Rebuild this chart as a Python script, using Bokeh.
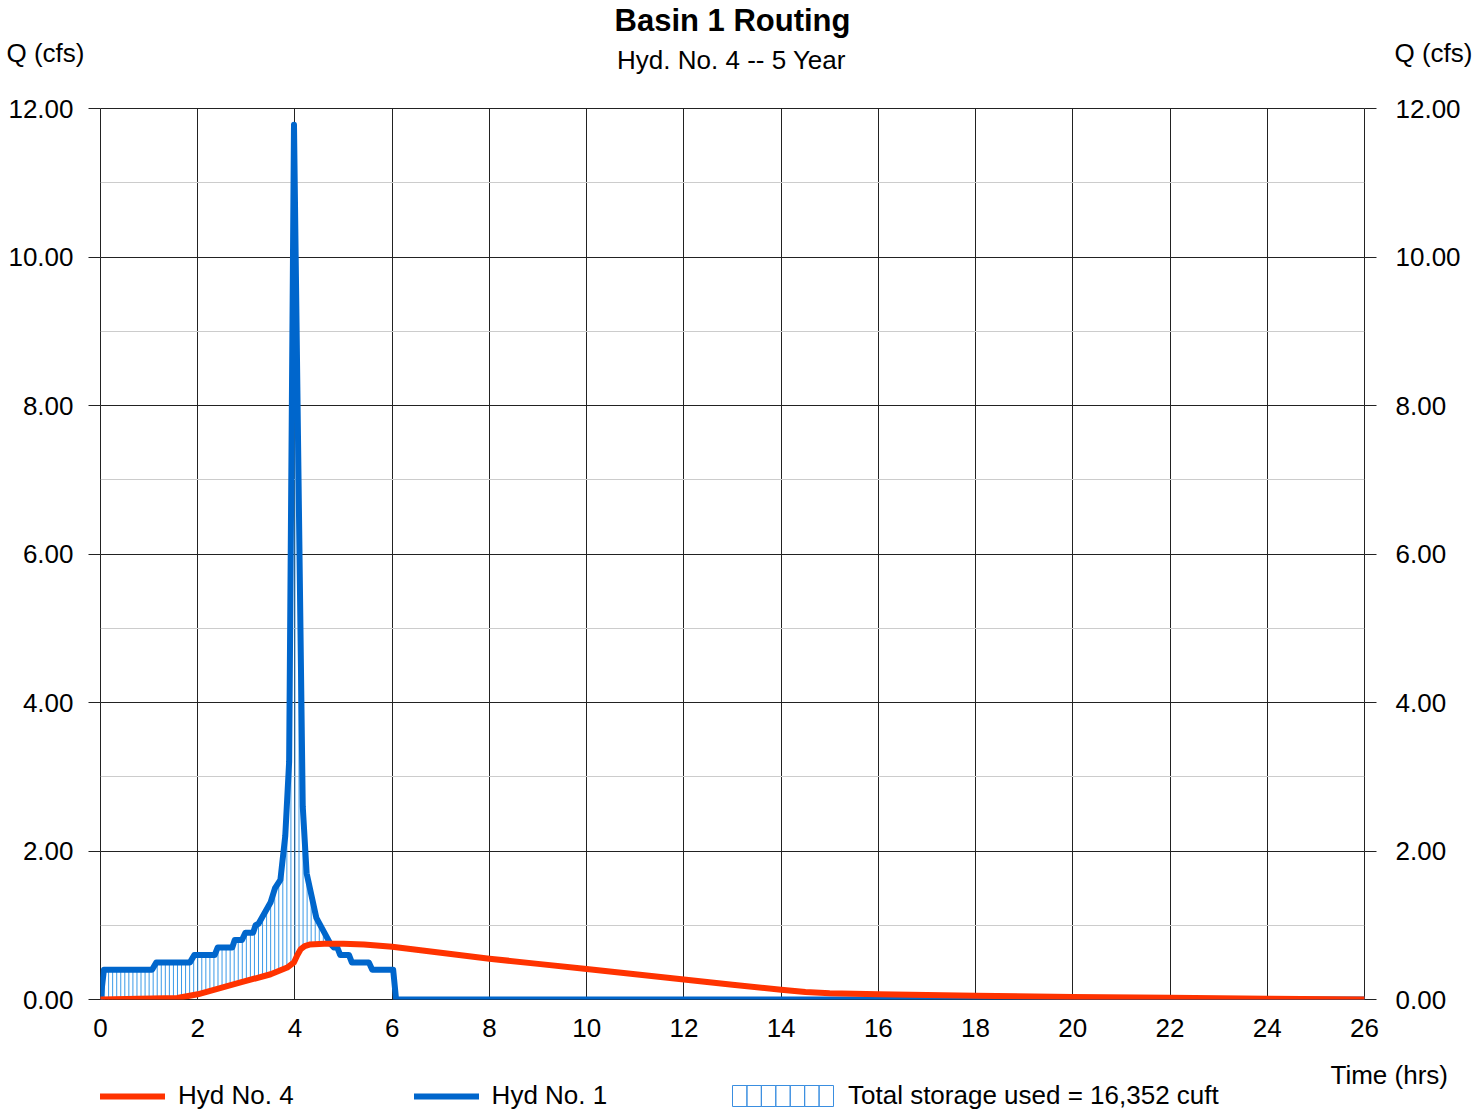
import numpy as np
from bokeh.plotting import figure
from bokeh.layouts import column
from bokeh.models import (Range1d, LinearAxis, SingleIntervalTicker, PrintfTickFormatter,
                          Label, Legend, LegendItem, BoxAnnotation)
from bokeh.embed import file_html
from bokeh.resources import INLINE

# ---------------- data ----------------
chart_title = "Basin 1 Routing"
chart_subtitle = "Hyd. No. 4 -- 5 Year"
y_label = "Q (cfs)"
x_label = "Time (hrs)"

inflow_name = "Hyd No. 1"
outflow_name = "Hyd No. 4"
storage_label = "Total storage used = 16,352 cuft"

# Hyd No. 1 (inflow hydrograph)
inflow_t = [0.0, 0.07, 1.06, 1.15, 1.84, 1.93, 2.35, 2.41, 2.71, 2.76, 2.91, 2.98, 3.14,
            3.19, 3.25, 3.50, 3.59, 3.70, 3.80, 3.88, 3.98, 4.16, 4.24, 4.44, 4.73,
            4.80, 4.87, 4.93, 5.11, 5.17, 5.52, 5.59, 6.02, 6.08, 26.0]
inflow_q = [0.0, 0.40, 0.40, 0.50, 0.50, 0.60, 0.60, 0.70, 0.70, 0.80, 0.80, 0.90, 0.90,
            1.00, 1.02, 1.31, 1.50, 1.61, 2.20, 3.20, 11.78, 2.60, 1.70, 1.10, 0.75,
            0.70, 0.70, 0.60, 0.60, 0.50, 0.50, 0.40, 0.40, 0.0, 0.0]

# Hyd No. 4 (routed outflow hydrograph)
outflow_t = [0.0, 1.58, 2.00, 2.33, 2.88, 3.50, 3.84, 3.98, 4.05, 4.12, 4.20, 4.30, 4.60,
             5.00, 5.42, 6.00, 6.50, 7.00, 8.00, 9.00, 10.00, 11.00, 12.00, 13.00,
             14.00, 14.50, 15.00, 16.00, 17.00, 18.00, 20.00, 22.00, 24.00, 26.00]
outflow_q = [0.0, 0.02, 0.07, 0.13, 0.23, 0.34, 0.43, 0.50, 0.60, 0.68, 0.72, 0.74, 0.75,
             0.75, 0.74, 0.71, 0.67, 0.63, 0.55, 0.48, 0.41, 0.34, 0.27, 0.20,
             0.13, 0.10, 0.085, 0.07, 0.06, 0.05, 0.035, 0.022, 0.01, 0.0]

x_tick_step = 2
y_tick_step = 2
storage_step = 1.0 / 12.0   # hydrograph time step (hrs) used for storage hatching

# ---------------- styling ----------------
FONT = "Liberation Sans"
RED = "#ff3300"
BLUE = "#0066cc"
HATCH = "#3b9ae8"
SWATCH = "#3a8ee0"
GRID = "#222222"
W = 1473
HEAD_H = 88
MAIN_H = 972
FOOT_H = 54


def no_align(fig):
    if "frame_align" in fig.properties():
        fig.frame_align = False


def bare_figure(height, y_range):
    f = figure(width=W, height=height, output_backend="svg", toolbar_location=None,
               title=None, x_axis_type=None, y_axis_type=None, min_border=0,
               x_range=Range1d(0, 1), y_range=y_range)
    f.outline_line_color = None
    f.background_fill_color = "white"
    f.border_fill_color = "white"
    no_align(f)
    return f


def add_label(fig, text, x, y, align, size, style="normal"):
    fig.add_layout(Label(x=x, y=y, x_units="screen", y_units="screen", text=text,
                         text_align=align, text_baseline="middle", text_font=FONT,
                         text_font_size=size, text_font_style=style, text_color="black"))


# ---------------- header ----------------
head = bare_figure(HEAD_H, Range1d(0, 1))
add_label(head, chart_title, 732, HEAD_H - 20, "center", "31px", "bold")
add_label(head, chart_subtitle, 731, HEAD_H - 59, "center", "26px")
add_label(head, y_label, 6, HEAD_H - 52, "left", "26px")
add_label(head, y_label, 1472, HEAD_H - 52, "right", "26px")

# ---------------- main plot ----------------
p = figure(width=W, height=MAIN_H, output_backend="svg", toolbar_location=None,
           title=None, x_range=Range1d(0, 26), y_range=Range1d(0, 12),
           min_border_left=100, min_border_right=109, min_border_top=20,
           min_border_bottom=61)
no_align(p)
p.background_fill_color = "white"
p.border_fill_color = "white"
p.outline_line_color = GRID
p.outline_line_width = 1

p.xaxis.ticker = SingleIntervalTicker(interval=x_tick_step, num_minor_ticks=0)
p.yaxis.ticker = SingleIntervalTicker(interval=y_tick_step, num_minor_ticks=2)
p.yaxis.formatter = PrintfTickFormatter(format="%.2f")
right_axis = LinearAxis(ticker=SingleIntervalTicker(interval=y_tick_step, num_minor_ticks=2),
                        formatter=PrintfTickFormatter(format="%.2f"))
p.add_layout(right_axis, "right")

for ax in p.yaxis:
    ax.axis_line_color = None
    ax.major_tick_out = 12
    ax.major_tick_in = 0
    ax.major_tick_line_color = GRID
    ax.minor_tick_line_color = None
    ax.major_label_standoff = 15
    ax.major_label_text_font = FONT
    ax.major_label_text_font_size = "26px"
    ax.major_label_text_color = "black"
right_axis.major_label_standoff = 19
for ax in p.xaxis:
    ax.axis_line_color = None
    ax.major_tick_out = 0
    ax.major_tick_in = 0
    ax.minor_tick_line_color = None
    ax.major_label_standoff = 19
    ax.major_label_text_font = FONT
    ax.major_label_text_font_size = "26px"
    ax.major_label_text_color = "black"

p.xgrid.ticker = SingleIntervalTicker(interval=x_tick_step, num_minor_ticks=0)
p.xgrid.grid_line_color = GRID
p.xgrid.grid_line_width = 1
p.ygrid.ticker = SingleIntervalTicker(interval=y_tick_step, num_minor_ticks=2)
p.ygrid.grid_line_color = GRID
p.ygrid.grid_line_width = 1
p.ygrid.minor_grid_line_color = "#cccccc"
p.ygrid.minor_grid_line_width = 1

# storage hatching (vertical lines between inflow and outflow where inflow exceeds outflow)
ht = np.arange(storage_step, inflow_t[-2], storage_step)
hin = np.interp(ht, inflow_t, inflow_q)
hout = np.interp(ht, outflow_t, outflow_q)
mask = hin > hout + 0.01
p.segment(x0=ht[mask], y0=hout[mask], x1=ht[mask], y1=hin[mask],
          line_color=HATCH, line_width=1)

p.line(inflow_t, inflow_q, line_color=BLUE, line_width=6,
       line_join="round", line_cap="round")
p.line(outflow_t, outflow_q, line_color=RED, line_width=6,
       line_join="round", line_cap="round")

# ---------------- footer (axis title + legend) ----------------
# the footer's y-range lies below all data, so these renderers only feed the legend
foot = bare_figure(FOOT_H, Range1d(-2, -1))
add_label(foot, x_label, 1330, FOOT_H - 14, "left", "26px")

l_out = foot.line(outflow_t, outflow_q, line_color=RED, line_width=6, line_cap="round")
l_in = foot.line(inflow_t, inflow_q, line_color=BLUE, line_width=6, line_cap="round")
l_store = foot.quad(left=[float(ht[mask][0])], right=[float(ht[mask][-1])],
                    bottom=[0.0], top=[max(inflow_q)], fill_alpha=0, line_alpha=0)

leg_kw = dict(orientation="horizontal", padding=0, margin=0, border_line_color=None,
              background_fill_alpha=0, label_text_font=FONT, label_text_font_size="26px",
              label_text_color="black", glyph_height=20, label_height=20)
leg1 = Legend(items=[LegendItem(label=outflow_name, renderers=[l_out]),
                     LegendItem(label=inflow_name, renderers=[l_in])],
              location=(100, 3), glyph_width=65, label_standoff=13, spacing=120, **leg_kw)
SW_LEFT, SW_W, SW_CELLS = 732, 101, 7
leg2 = Legend(items=[LegendItem(label=storage_label, renderers=[l_store])],
              location=(SW_LEFT, 3), glyph_width=SW_W, label_standoff=15, **leg_kw)
foot.add_layout(leg1, "center")
foot.add_layout(leg2, "center")

# storage swatch: a box divided into vertical cells (mimics the hatched storage area)
cell = SW_W / SW_CELLS
for i in range(SW_CELLS):
    foot.add_layout(BoxAnnotation(left=SW_LEFT + i * cell, right=SW_LEFT + (i + 1) * cell,
                                  bottom=8, top=29, left_units="screen", right_units="screen",
                                  bottom_units="screen", top_units="screen",
                                  fill_alpha=0, line_color=SWATCH, line_alpha=1, line_width=1))

layout = column(head, p, foot, spacing=0)
open("out.html", "w").write(file_html(layout, INLINE))
